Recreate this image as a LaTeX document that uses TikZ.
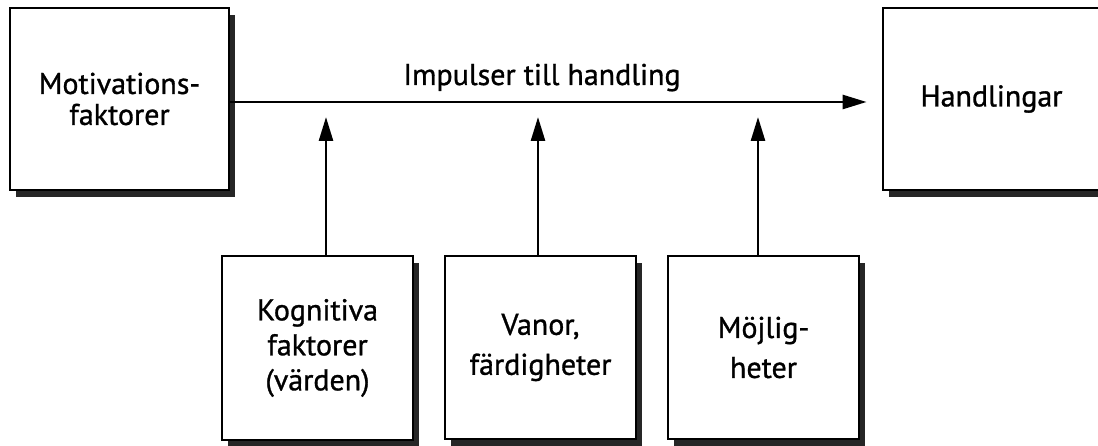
\documentclass[tikz,border=0pt]{standalone}
\usepackage{fontspec}
\setmainfont[BoldFont={PT Sans},BoldFeatures={FakeBold=1}]{PT Sans}
\usetikzlibrary{arrows.meta,shadows}
\begin{document}
\begin{tikzpicture}[x=1pt,y=1pt,
  box/.style={draw=black, line width=2.8pt, fill=white, align=center,
    inner sep=0pt, font=\fontsize{30}{35}\selectfont\bfseries,
    drop shadow={shadow xshift=6pt, shadow yshift=-7pt, fill=black!85, opacity=1}},
  link/.style={line width=2.6pt, -{Triangle[length=24pt,width=14pt]}},
  lbl/.style={font=\fontsize{30}{34}\selectfont\bfseries, inner sep=0pt}]
\useasboundingbox (0,0) rectangle (1098,446);
\fill[white] (0,0) rectangle (1098,446);

% top row
\node[box, minimum width=219pt, minimum height=182pt] (mot) at (119.5,347) {Motivations-\\[-4pt]faktorer};
\node[box, minimum width=217pt, minimum height=182pt] (hand) at (991.5,347) {Handlingar};

% bottom row
\node[box, minimum width=191pt, minimum height=184pt] (kog) at (317.5,98) {Kognitiva\\faktorer\\(värden)};
\node[box, minimum width=191pt, minimum height=183pt] (van) at (540.5,98.5) {Vanor,\\[5pt]färdigheter};
\node[box, minimum width=191pt, minimum height=183pt] (moj) at (763.5,98.5) {Möjlig-\\[5pt]heter};

% main flow
\draw[link, shorten >=15pt] ([yshift=-3pt]mot.east) -- ([yshift=-3pt]hand.west);
\node[lbl, anchor=base] (imp) at (542,361) {Impulser till handling};

% influences on the flow
\coordinate (t1) at (326,329);
\coordinate (t2) at (538,329);
\coordinate (t3) at (758,329);
\draw[link] (t1 |- kog.north) -- (t1);
\draw[link] (t2 |- van.north) -- (t2);
\draw[link] (t3 |- moj.north) -- (t3);
\end{tikzpicture}
\end{document}
